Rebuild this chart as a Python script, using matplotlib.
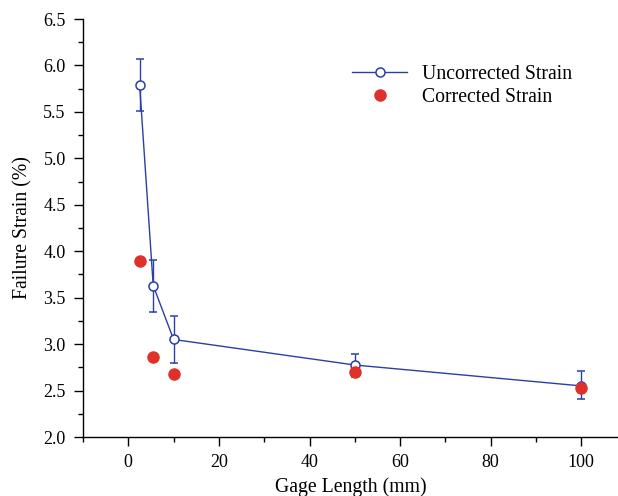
import matplotlib
matplotlib.use("Agg")
import matplotlib.pyplot as plt
from matplotlib.ticker import MultipleLocator
from matplotlib.lines import Line2D

gage_length = [2.5, 5.5, 10, 50, 100]
uncorrected = [5.79, 3.63, 3.05, 2.775, 2.55]
unc_err_low = [5.51, 3.35, 2.80, 2.645, 2.41]
unc_err_high = [6.07, 3.905, 3.30, 2.89, 2.71]
corrected = [3.89, 2.86, 2.675, 2.70, 2.525]
series_labels = ['Uncorrected Strain', 'Corrected Strain']

plt.rcParams['font.family'] = ['Liberation Serif', 'DejaVu Serif']
plt.rcParams['font.size'] = 13

blue = '#2b3fa6'
red = '#e0302a'

fig = plt.figure(figsize=(6.18, 4.96), dpi=100)
ax = fig.add_axes([83/618, 1 - 437/496, 1 - 83/618, (437 - 19)/496])

yerr = [[u - l for u, l in zip(uncorrected, unc_err_low)],
        [h - u for u, h in zip(uncorrected, unc_err_high)]]
ax.errorbar(gage_length, uncorrected, yerr=yerr, color=blue, lw=1.0,
            elinewidth=1.0, capsize=3.2, capthick=1.0,
            marker='o', markersize=6.5, markerfacecolor='white',
            markeredgecolor=blue, markeredgewidth=1.1, zorder=2)
ax.plot(gage_length, corrected, linestyle='none', marker='o', markersize=8,
        color=red, markeredgecolor=red, zorder=3)

ax.set_xlim(-10, 108.1)
ax.set_ylim(2.0, 6.5)
ax.xaxis.set_major_locator(MultipleLocator(20))
ax.xaxis.set_minor_locator(MultipleLocator(10))
ax.yaxis.set_major_locator(MultipleLocator(0.5))
ax.yaxis.set_minor_locator(MultipleLocator(0.25))
ax.yaxis.set_major_formatter(plt.FormatStrFormatter('%.1f'))
ax.tick_params(which='major', direction='out', length=6.5, width=1.0)
ax.tick_params(axis='y', which='major', pad=6)
ax.tick_params(axis='x', which='major', pad=6)
ax.tick_params(which='minor', direction='out', length=3.6, width=1.0)
for s in ['top', 'right']:
    ax.spines[s].set_visible(False)
for s in ['left', 'bottom']:
    ax.spines[s].set_linewidth(1.0)

ax.set_xlabel('Gage Length (mm)', fontsize=14.2, labelpad=4)
ax.set_ylabel('Failure Strain (%)', fontsize=14.2, labelpad=8)

handles = [
    Line2D([], [], color=blue, lw=1.0, marker='o', markersize=6.5,
           markerfacecolor='white', markeredgecolor=blue, markeredgewidth=1.1),
    Line2D([], [], linestyle='none', marker='o', markersize=8, color=red),
]
leg = ax.legend(handles, series_labels, loc='upper left',
                bbox_to_anchor=((352 - 83) / (618 - 83), 1 - (65 - 19) / 418),
                frameon=False, handlelength=2.8, handletextpad=0.75,
                labelspacing=0.2, borderaxespad=0, borderpad=0,
                fontsize=14.2)

fig.savefig('out.png', dpi=100)
